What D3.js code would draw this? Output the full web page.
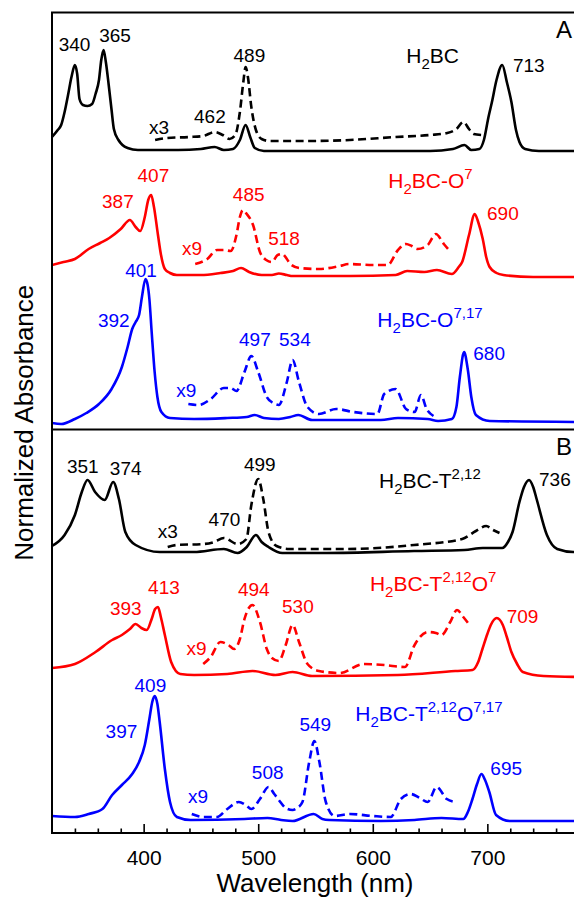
<!DOCTYPE html>
<html><head><meta charset="utf-8">
<script src="https://cdn.jsdelivr.net/npm/d3@7"></script>
<style>
body{margin:0;background:#fff}
svg{display:block}
text{font-family:Arial,"Liberation Sans",sans-serif}
</style>
</head><body>
<svg id="chart" width="574" height="901"></svg>
<script>
// ---------------- DATA ----------------
const majorTicks = [400, 500, 600, 700];
const minorTicks = [340,360,380,420,440,460,480,520,540,560,580,620,640,660,680,720,740,760];

// Panel A (stacked, normalized absorbance + offset)
const aBlack = [[320,2.93],[325,3.00],[328,3.05],[331,3.18],[334,3.35],[337,3.53],[340,3.65],[342,3.56],[344,3.31],[347,3.25],[351,3.24],[355,3.26],[358,3.36],[361,3.50],[363,3.70],[365,3.80],[367,3.68],[369.5,3.45],[372,3.20],[374,3.01],[378,2.90],[381.5,2.85],[386,2.82],[395,2.80],[430,2.80],[450,2.81],[462,2.83],[470,2.80],[478,2.81],[484,2.90],[489,3.05],[493,2.93],[497,2.82],[505,2.79],[550,2.79],[600,2.79],[650,2.79],[670,2.81],[680,2.85],[686,2.80],[693,2.81],[697,2.90],[701,3.13],[704,3.28],[708,3.50],[713,3.65],[717,3.48],[721,3.28],[725,3.00],[728,2.88],[733,2.81],[745,2.79],[786,2.79]];
const aBlackX3 = [[410,2.90],[420,2.92],[440,2.93],[452,2.94],[462,2.98],[469,2.95],[475,2.91],[480,2.95],[484,3.18],[487,3.48],[489,3.63],[491,3.53],[494,3.23],[498,3.00],[503,2.91],[510,2.89],[540,2.89],[580,2.90],[620,2.93],[650,2.95],[665,2.97],[673,3.01],[679,3.08],[684,3.01],[688,2.96],[695,2.95]];
const aRed = [[320,1.65],[330,1.68],[340,1.71],[352,1.81],[362,1.87],[370,1.92],[380,2.01],[388,2.10],[393,2.03],[397,1.99],[401,2.13],[404,2.30],[406.6,2.35],[409,2.23],[412.5,1.95],[415,1.76],[418.5,1.61],[423,1.57],[429,1.55],[450,1.55],[467,1.57],[478,1.59],[485,1.62],[492,1.58],[503,1.55],[512,1.55],[518,1.565],[525,1.55],[530,1.54],[580,1.54],[620,1.55],[630,1.59],[645,1.58],[656,1.60],[669,1.56],[675,1.63],[678,1.68],[684,1.95],[689,2.16],[692,2.08],[696,1.91],[699,1.73],[702,1.63],[708,1.57],[714,1.55],[740,1.53],[786,1.53]];
const aRedX9 = [[445,1.66],[455.5,1.71],[464,1.80],[470,1.80],[476,1.79],[481,1.95],[484,2.13],[486.5,2.20],[490,2.16],[495.5,2.05],[501.5,1.78],[507,1.70],[512,1.68],[517,1.75],[521,1.76],[525,1.71],[528,1.66],[536,1.62],[553,1.61],[571,1.64],[579,1.66],[600,1.65],[613,1.65],[622,1.80],[629,1.86],[634,1.84],[639,1.81],[648,1.85],[655,1.96],[662,1.86],[668,1.78]];
const aBlue = [[320,0.07],[328,0.06],[340,0.11],[350,0.17],[361,0.26],[372,0.41],[381,0.63],[386,0.83],[390,1.01],[393,1.08],[396,1.15],[398.5,1.33],[401.6,1.51],[403.5,1.45],[405,1.31],[407,0.98],[409.6,0.58],[412,0.33],[415.5,0.18],[423,0.12],[444,0.11],[473,0.12],[490,0.13],[497,0.15],[505,0.12],[518,0.11],[528,0.13],[535,0.15],[547,0.10],[607,0.10],[622,0.12],[648,0.11],[657,0.09],[669,0.11],[673,0.23],[676,0.53],[679.7,0.78],[683,0.60],[686,0.33],[690,0.15],[702,0.09],[786,0.08]];
const aBlueX9 = [[439,0.26],[448,0.25],[458.5,0.31],[470,0.42],[476,0.42],[481,0.39],[488,0.58],[494,0.74],[500,0.58],[507.5,0.33],[513,0.27],[518,0.25],[525,0.48],[530,0.70],[535.6,0.48],[543,0.23],[553,0.16],[568,0.21],[583,0.18],[604,0.16],[610,0.36],[620,0.41],[629,0.21],[636.5,0.18],[642,0.35],[647,0.21],[653,0.14]];

// Panel B
const bBlack = [[320,2.88],[331,2.99],[340,3.19],[346,3.42],[351,3.54],[357.6,3.42],[366,3.34],[373.4,3.52],[378.4,3.35],[384,3.02],[393,2.89],[414,2.82],[444,2.82],[470,2.85],[482,2.81],[490,2.87],[498,2.99],[503,2.92],[509,2.87],[521,2.81],[560,2.81],[636,2.83],[680,2.84],[696,2.86],[713,2.86],[718,2.92],[722,3.02],[728,3.32],[732,3.47],[736.4,3.54],[740,3.47],[743,3.35],[752,2.99],[761,2.85],[775,2.82],[786,2.82]];
const bBlackX3 = [[421,2.87],[429,2.89],[452.6,2.90],[461.5,2.92],[470,2.96],[482,2.90],[489.7,2.95],[494,3.29],[500,3.55],[504.4,3.35],[509,3.02],[516,2.88],[527,2.85],[577,2.85],[636,2.89],[678,2.95],[690,3.03],[699,3.08],[705,3.04],[710.6,3.01]];
const bRed = [[320,1.66],[340,1.70],[358,1.82],[372.5,1.94],[381,1.99],[388,2.05],[393,2.10],[398,2.06],[402.7,2.04],[407,2.15],[410,2.25],[412.5,2.27],[415,2.17],[418.5,1.99],[424,1.72],[432,1.60],[444,1.59],[473,1.60],[495,1.63],[515,1.59],[530,1.62],[547,1.58],[622,1.59],[672,1.63],[687,1.64],[692,1.72],[695.7,1.85],[700,2.00],[703,2.09],[708.2,2.16],[713.5,2.09],[717,1.97],[721,1.82],[726,1.70],[731,1.62],[749,1.58],[786,1.57]];
const bRedX9 = [[452,1.70],[458.5,1.77],[467,1.92],[474,1.89],[479,1.85],[484,1.95],[488,2.15],[495,2.29],[501.5,2.12],[507.5,1.85],[512,1.76],[518,1.73],[524,1.89],[530,2.09],[535.6,1.92],[543,1.70],[553,1.63],[571,1.61],[592,1.70],[610,1.69],[628,1.67],[636.5,1.89],[648,2.02],[655,2.01],[660,1.99],[667.6,2.12],[673.5,2.24],[679,2.17],[684.5,2.09]];
const bBlue = [[320,0.18],[340,0.17],[352,0.20],[364,0.25],[372.5,0.39],[381,0.49],[390,0.60],[396,0.72],[401,0.89],[405,1.15],[407.5,1.32],[409.6,1.38],[412,1.30],[414,1.12],[418.5,0.65],[423,0.32],[429,0.17],[441,0.14],[488,0.15],[508,0.16],[520,0.14],[530,0.13],[548.4,0.20],[556,0.15],[562,0.14],[607,0.13],[636.5,0.14],[660,0.16],[679,0.15],[683,0.22],[687,0.35],[691,0.50],[694.8,0.60],[698,0.54],[701.7,0.42],[707.6,0.19],[719.5,0.13],[786,0.13]];
const bBlueX9 = [[442,0.20],[452.6,0.17],[464,0.17],[473,0.25],[483,0.32],[489,0.29],[494,0.25],[501.5,0.35],[509,0.47],[514,0.40],[518,0.34],[524,0.26],[530,0.24],[534,0.26],[538.6,0.32],[544.5,0.72],[549,0.93],[553.4,0.72],[559,0.32],[566.7,0.18],[580,0.20],[600,0.18],[615.6,0.17],[624.5,0.35],[633,0.40],[641,0.36],[648,0.32],[655.7,0.47],[664.6,0.35],[672,0.32]];

// Annotations: [text, wavelength, value, color, anchor]
const peaksA = [
  ["340",339.7,3.79,"k","middle"],["365",375,3.884,"k","middle"],["489",492.3,3.68,"k","middle"],
  ["x3",413.4,2.965,"k","middle"],["462",457.8,3.067,"k","middle"],["713",722.3,3.585,"k","start"],
  ["407",408.5,2.476,"r","middle"],["387",377.5,2.221,"r","middle"],["485",491.7,2.289,"r","middle"],
  ["x9",442.2,1.751,"r","middle"],["518",522.5,1.853,"r","middle"],["690",699.7,2.102,"r","start"],
  ["401",397.7,1.533,"b","middle"],["392",373.9,1.028,"b","middle"],["497",497.1,0.844,"b","middle"],
  ["534",532,0.844,"b","middle"],["x9",437.2,0.333,"b","middle"],["680",687.7,0.697,"b","start"]
];
const peaksB = [
  ["351",346.9,3.612,"k","middle"],["374",384.3,3.588,"k","middle"],["499",501.4,3.629,"k","middle"],
  ["x3",421,2.965,"k","middle"],["470",470.5,3.077,"k","middle"],["736",745.1,3.476,"k","start"],
  ["413",417.7,2.399,"r","middle"],["393",384.4,2.188,"r","middle"],["494",496.1,2.382,"r","middle"],
  ["530",534.6,2.212,"r","middle"],["x9",446.1,1.786,"r","middle"],["709",716.9,2.11,"r","start"],
  ["409",405.9,1.418,"b","middle"],["397",380.6,0.965,"b","middle"],["549",549.8,1.033,"b","middle"],
  ["508",508.3,0.55,"b","middle"],["x9",447.5,0.311,"b","middle"],["695",702.6,0.591,"b","start"]
];
// species names: [parts, wavelength, value, color]
const namesA = [
  [[["H",""],["2","sub"],["BC",""]],629.2,3.67,"k"],
  [[["H",""],["2","sub"],["BC-O",""],["7","sup"]],613.5,2.419,"r"],
  [[["H",""],["2","sub"],["BC-O",""],["7,17","sup"]],604,1.028,"b"]
];
const namesB = [
  [[["H",""],["2","sub"],["BC-T",""],["2,12","sup"]],605.5,3.459,"k"],
  [[["H",""],["2","sub"],["BC-T",""],["2,12","sup"],["O",""],["7","sup"]],597.5,2.427,"r"],
  [[["H",""],["2","sub"],["BC-T",""],["2,12","sup"],["O",""],["7,17","sup"]],584.7,1.129,"b"]
];

// ---------------- DRAW ----------------
const colors = {k:"#000000", r:"#ff0000", b:"#0000ff"};
const svg = d3.select("#chart");
const x = d3.scaleLinear().domain([320, 780]).range([52, 579]);
const yA = d3.scaleLinear().domain([-0.005, 4.175]).range([430.5, 12.5]);
const yB = d3.scaleLinear().domain([0.01, 4.045]).range([833, 429.5]);

function panel(id, y, series, peaks, names, letter) {
  const [y0, y1] = [y.range()[1], y.range()[0]];
  svg.append("clipPath").attr("id", id).append("rect")
    .attr("x", x.range()[0]).attr("y", y0).attr("width", x.range()[1]-x.range()[0]).attr("height", y1-y0);
  const g = svg.append("g").attr("clip-path", `url(#${id})`);
  const line = d3.line().x(d => x(d[0])).y(d => y(d[1])).curve(d3.curveMonotoneX);
  series.forEach(([data, c, dashed]) => {
    g.append("path").datum(data).attr("d", line).attr("fill","none")
      .attr("stroke", colors[c]).attr("stroke-width", 2.6)
      .attr("stroke-linejoin","round")
      .attr("stroke-dasharray", dashed ? "8,4.5" : null);
  });
  peaks.forEach(([t, w, v, c, a]) => {
    svg.append("text").attr("x", x(w)).attr("y", y(v)).attr("text-anchor", a)
      .attr("font-size", 19).attr("fill", colors[c]).text(t);
  });
  names.forEach(([parts, w, v, c]) => {
    const t = svg.append("text").attr("x", x(w)).attr("y", y(v)).attr("font-size", 21).attr("fill", colors[c]);
    let shift = 0;
    parts.forEach(([s, k]) => {
      const target = k === "sub" ? 6 : k === "sup" ? -9 : 0;
      t.append("tspan").attr("dy", target - shift).attr("font-size", k ? 15 : 21).text(s);
      shift = target;
    });
  });
  svg.append("text").attr("x", x(760)).attr("y", y0 + 25).attr("font-size", 24).text(letter);
}

panel("clipA", yA, [[aBlack,"k",false],[aBlackX3,"k",true],[aRed,"r",false],[aRedX9,"r",true],[aBlue,"b",false],[aBlueX9,"b",true]], peaksA, namesA, "A");
panel("clipB", yB, [[bBlack,"k",false],[bBlackX3,"k",true],[bRed,"r",false],[bRedX9,"r",true],[bBlue,"b",false],[bBlueX9,"b",true]], peaksB, namesB, "B");

// Frame
const frame = svg.append("g").attr("stroke","#000").attr("stroke-width",2).attr("fill","none");
frame.append("rect").attr("x", x.range()[0]).attr("y", yA.range()[1])
  .attr("width", x.range()[1]-x.range()[0]).attr("height", yB.range()[0]-yA.range()[1]);
frame.append("line").attr("x1", x.range()[0]).attr("x2", x.range()[1]).attr("y1", yB.range()[1]).attr("y2", yB.range()[1]);

// Bottom axis (ticks inside)
const axMajor = d3.axisBottom(x).tickValues(majorTicks).tickSize(-9).tickSizeOuter(0).tickPadding(17).tickFormat(d3.format("d"));
const gMaj = svg.append("g").attr("transform", `translate(0,${yB.range()[0]})`).call(axMajor);
gMaj.select(".domain").remove();
gMaj.selectAll("line").attr("stroke-width", 1.6);
gMaj.selectAll("text").attr("font-size", 21).attr("font-family", "Arial, 'Liberation Sans', sans-serif").attr("fill","#000");
const axMinor = d3.axisBottom(x).tickValues(minorTicks).tickSize(-4.5).tickSizeOuter(0).tickFormat("");
const gMin = svg.append("g").attr("transform", `translate(0,${yB.range()[0]})`).call(axMinor);
gMin.select(".domain").remove();
gMin.selectAll("line").attr("stroke-width", 1.6);

// Axis titles
svg.append("text").attr("x", 315).attr("y", 892).attr("text-anchor","middle").attr("font-size", 26).text("Wavelength (nm)");
svg.append("text").attr("transform", `translate(33,${(yA.range()[1]+yB.range()[0])/2}) rotate(-90)`)
  .attr("text-anchor","middle").attr("font-size", 26).text("Normalized Absorbance");
</script>
</body></html>
